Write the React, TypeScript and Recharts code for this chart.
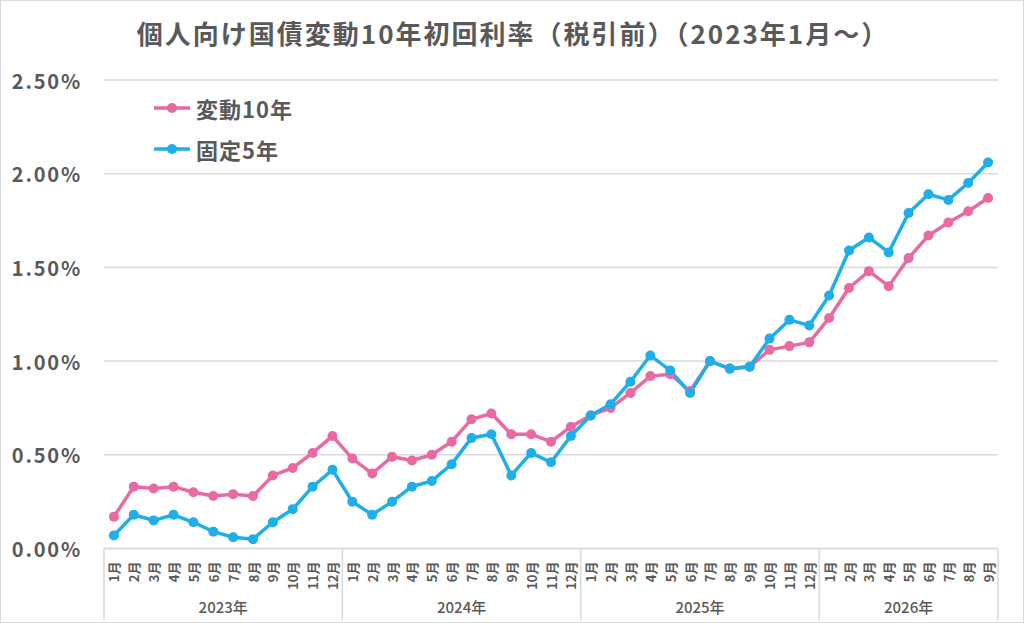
import { LineChart, Line, XAxis, YAxis, CartesianGrid } from 'recharts'

// categories
const yearLabels = ['2023年', '2024年', '2025年', '2026年']
const monthsPerYear = [12, 12, 12, 9]
const yTicks = [0, 0.5, 1.0, 1.5, 2.0, 2.5]

// 初回利率 (%)
const hendo10 = [
  0.17, 0.33, 0.32, 0.33, 0.30, 0.28, 0.29, 0.28, 0.39, 0.43, 0.51, 0.60,
  0.48, 0.40, 0.49, 0.47, 0.50, 0.57, 0.69, 0.72, 0.61, 0.61, 0.57, 0.65,
  0.71, 0.75, 0.83, 0.92, 0.93, 0.84, 1.00, 0.96, 0.97, 1.06, 1.08, 1.10,
  1.23, 1.39, 1.48, 1.40, 1.55, 1.67, 1.74, 1.80, 1.87,
]
const kotei5 = [
  0.07, 0.18, 0.15, 0.18, 0.14, 0.09, 0.06, 0.05, 0.14, 0.21, 0.33, 0.42,
  0.25, 0.18, 0.25, 0.33, 0.36, 0.45, 0.59, 0.61, 0.39, 0.51, 0.46, 0.60,
  0.71, 0.77, 0.89, 1.03, 0.95, 0.83, 1.00, 0.96, 0.97, 1.12, 1.22, 1.19,
  1.35, 1.59, 1.66, 1.58, 1.79, 1.89, 1.86, 1.95, 2.06,
]

const PINK = '#e96aa3'
const BLUE = '#1eaeea'
const TEXT = '#595959'
const GRID = '#d9d9d9'
const FONT = '"Noto Sans CJK JP", "Noto Sans", sans-serif'

const W = 1024
const H = 623
const PLOT_LEFT = 104
const PLOT_RIGHT = 998
const PLOT_TOP = 80
const PLOT_BOTTOM = 548.5
const AXIS_H = 72
const BAND = (PLOT_RIGHT - PLOT_LEFT) / hendo10.length

const rows: { key: string; year: number; month: number; hendo: number; kotei: number }[] = []
{
  let i = 0
  monthsPerYear.forEach((n, y) => {
    for (let m = 1; m <= n; m++) {
      rows.push({ key: `${y}-${m}`, year: y, month: m, hendo: hendo10[i], kotei: kotei5[i] })
      i++
    }
  })
}

function MonthTick(props: any) {
  const { x, index } = props
  const row = rows[index]
  if (!row) return null
  const left = x - BAND / 2
  const top = PLOT_BOTTOM
  const bottom = PLOT_BOTTOM + AXIS_H
  const n = monthsPerYear[row.year]
  return (
    <g>
      <text
        x={0}
        y={0}
        transform={`translate(${x},${top + 13}) rotate(-90)`}
        textAnchor="end"
        dominantBaseline="central"
        fontSize={13}
        fontWeight="bold"
        fill={TEXT}
        fontFamily={FONT}
      >
        {`${row.month}月`}
      </text>
      {row.month === 1 && (
        <>
          <line x1={left} x2={left} y1={top} y2={bottom} stroke={GRID} strokeWidth={1.5} />
          <text
            x={left + (n * BAND) / 2}
            y={bottom - 8}
            textAnchor="middle"
            fontSize={15}
            fontWeight={500}
            fill={TEXT}
            fontFamily={FONT}
          >
            {yearLabels[row.year]}
          </text>
        </>
      )}
      {index === rows.length - 1 && (
        <line x1={x + BAND / 2} x2={x + BAND / 2} y1={top} y2={bottom} stroke={GRID} strokeWidth={1.5} />
      )}
    </g>
  )
}

function PctTick(props: any) {
  const { y, payload } = props
  return (
    <text
      x={82}
      y={y}
      textAnchor="end"
      dominantBaseline="central"
      fontSize={20}
      fontWeight="bold"
      fill={TEXT}
      fontFamily={FONT}
      letterSpacing={1.8}
    >
      {`${Number(payload.value).toFixed(2)}%`}
    </text>
  )
}

function LegendBox() {
  const items = [
    { name: '変動10年', color: PINK },
    { name: '固定5年', color: BLUE },
  ]
  return (
    <div style={{ position: 'absolute', left: 151, top: 86 }}>
      {items.map((it) => (
        <div key={it.name} style={{ display: 'flex', alignItems: 'center', height: 41 }}>
          <svg width={40} height={12} style={{ marginRight: 4 }}>
            <line x1={2} x2={38} y1={6} y2={6} stroke={it.color} strokeWidth={3.5} />
            <circle cx={20} cy={6} r={5} fill={it.color} />
          </svg>
          <span style={{ fontSize: 22, fontWeight: 'bold', color: TEXT, fontFamily: FONT, letterSpacing: 1 }}>
            {it.name}
          </span>
        </div>
      ))}
    </div>
  )
}

export default function App() {
  return (
    <div
      style={{
        position: 'absolute',
        left: 0,
        top: 0,
        width: W,
        height: H,
        background: '#fff',
        boxSizing: 'border-box',
        border: `1.5px solid ${GRID}`,
      }}
    >
      <div
        style={{
          position: 'absolute',
          left: 0,
          top: 13,
          width: W,
          textAlign: 'center',
          fontFamily: FONT,
          fontWeight: 'bold',
          fontSize: 26,
          color: TEXT,
          letterSpacing: 2,
        }}
      >
        個人向け国債変動10年初回利率（税引前）（2023年1月～）
      </div>
      <div style={{ position: 'absolute', left: -1.5, top: -1.5 }}>
        <LineChart
          width={W}
          height={H}
          data={rows}
          margin={{ top: PLOT_TOP, right: W - PLOT_RIGHT, left: 0, bottom: H - PLOT_BOTTOM - AXIS_H }}
        >
          <CartesianGrid vertical={false} stroke={GRID} strokeWidth={1.5} />
          <XAxis
            dataKey="key"
            interval={0}
            height={AXIS_H}
            padding={{ left: BAND / 2, right: BAND / 2 }}
            tickLine={false}
            axisLine={{ stroke: GRID, strokeWidth: 1.5 }}
            tick={<MonthTick />}
          />
          <YAxis
            width={PLOT_LEFT}
            domain={[0, 2.5]}
            ticks={yTicks}
            axisLine={false}
            tickLine={false}
            tick={<PctTick />}
          />
          <Line
            dataKey="hendo"
            name="変動10年"
            stroke={PINK}
            strokeWidth={3.5}
            dot={{ r: 5, fill: PINK, stroke: PINK, strokeWidth: 0 }}
            isAnimationActive={false}
          />
          <Line
            dataKey="kotei"
            name="固定5年"
            stroke={BLUE}
            strokeWidth={3.5}
            dot={{ r: 5, fill: BLUE, stroke: BLUE, strokeWidth: 0 }}
            isAnimationActive={false}
          />
        </LineChart>
      </div>
      <LegendBox />
    </div>
  )
}
